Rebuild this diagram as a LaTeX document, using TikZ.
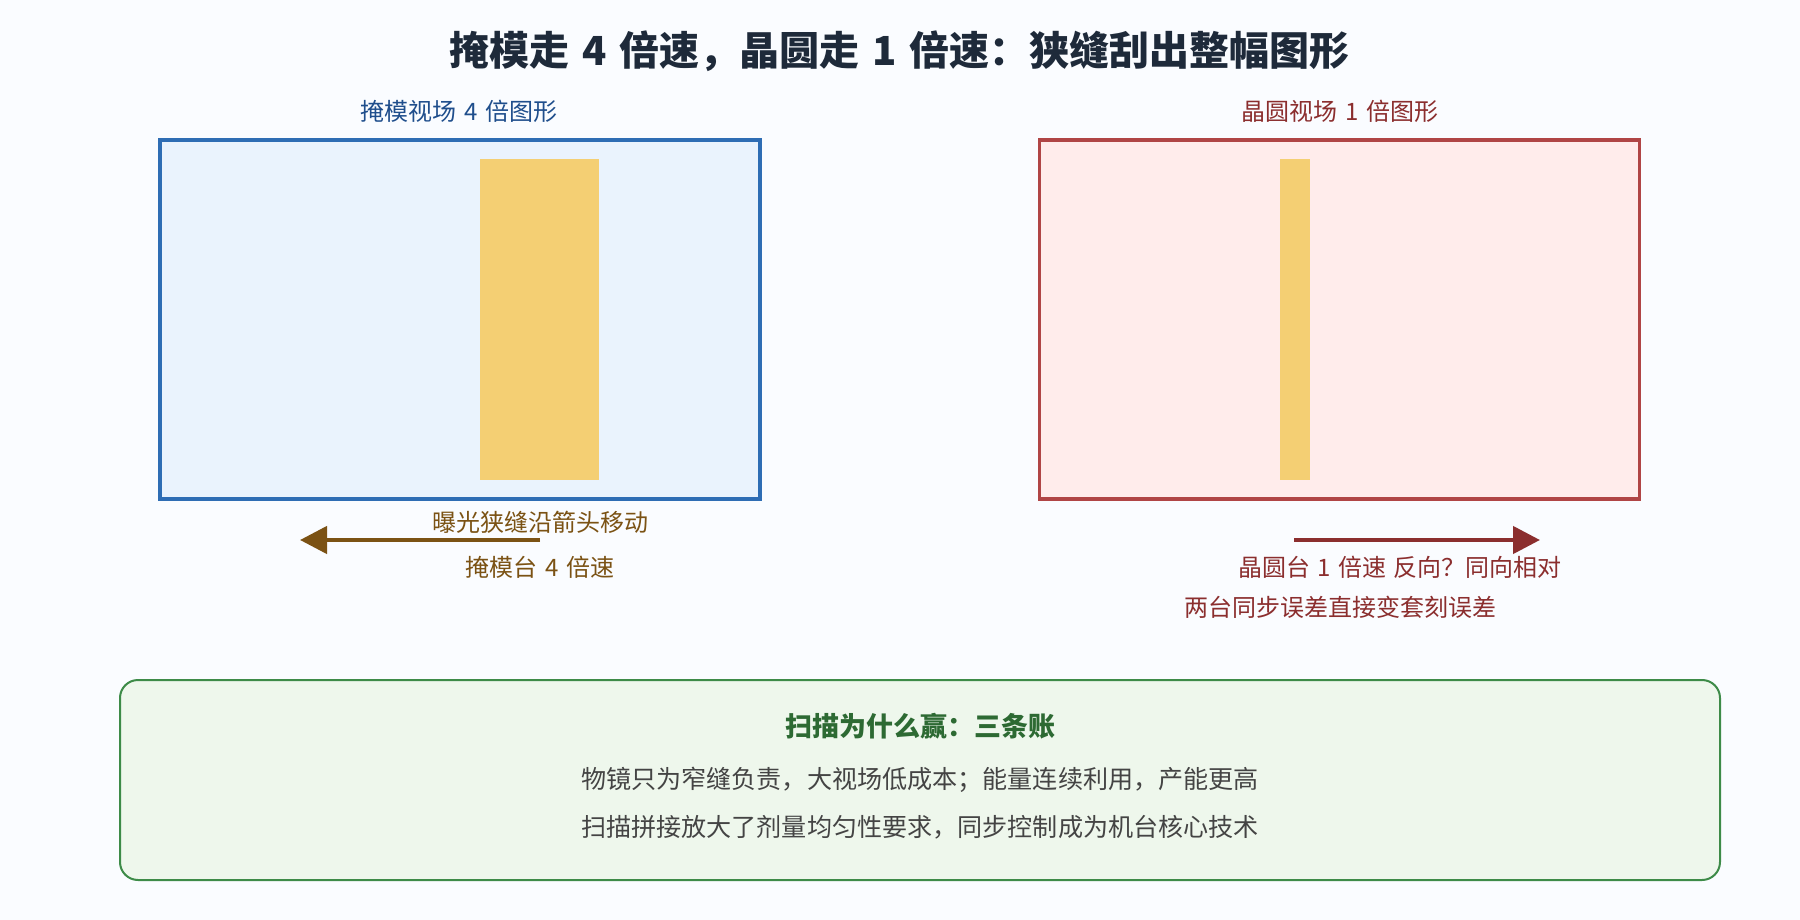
\documentclass[tikz,border=0pt]{standalone}
\usepackage{fontspec}
\setmainfont{Noto Sans CJK SC}[WordSpace=1.4]
\usetikzlibrary{arrows.meta}

\definecolor{pagebg}{HTML}{FAFCFF}
\definecolor{titleink}{HTML}{1E2A3A}
\definecolor{maskink}{HTML}{1F4E8C}
\definecolor{maskline}{HTML}{2E6DB4}
\definecolor{maskfill}{HTML}{EAF3FD}
\definecolor{waferink}{HTML}{8B2E2E}
\definecolor{waferline}{HTML}{B04545}
\definecolor{waferfill}{HTML}{FFECEB}
\definecolor{slitfill}{HTML}{F4CF73}
\definecolor{stageink}{HTML}{7B5214}
\definecolor{sumline}{HTML}{3D8B48}
\definecolor{sumfill}{HTML}{EEF7EC}
\definecolor{sumink}{HTML}{2D6A33}
\definecolor{bodyink}{HTML}{444444}

\begin{document}
\begin{tikzpicture}[x=1pt,y=-1pt,
  fieldbox/.style={draw, line width=3.5pt, minimum width=600pt, minimum height=359pt, inner sep=0pt},
  slitbar/.style={fill=slitfill, inner sep=0pt, minimum height=320pt},
  smalltext/.style={font=\fontsize{24}{28}\selectfont, inner sep=0pt},
  bodytext/.style={font=\fontsize{25.1}{30}\selectfont, text=bodyink, inner sep=0pt},
  stagearrow/.style={line width=4.5pt, -{Triangle[length=27pt,width=27pt]}}]

  \useasboundingbox[fill=pagebg] (0,0) rectangle (1800,920);

  \node (title) at (900,51) [font=\fontsize{40}{44}\selectfont\bfseries, text=titleink, inner sep=0pt] {掩模走 4 倍速，晶圆走 1 倍速：狭缝刮出整幅图形};

  \node (masklabel) at (459,111) [smalltext, text=maskink] {掩模视场 4 倍图形};
  \node (waferlabel) at (1340,111) [smalltext, text=waferink] {晶圆视场 1 倍图形};

  \node (maskfield) at (460,319.5) [fieldbox, draw=maskline, fill=maskfill] {};
  \node (waferfield) at (1339.5,319.5) [fieldbox, draw=waferline, fill=waferfill] {};

  \node (maskslit) at (539.5,319.5) [slitbar, minimum width=119pt] {};
  \node (waferslit) at (1295,319.5) [slitbar, minimum width=30pt] {};

  \coordinate (maskfrom) at (540,540);
  \coordinate (maskto) at (300,540);
  \coordinate (waferfrom) at (1294,540);
  \coordinate (waferto) at (1540,540);

  \draw [stagearrow, draw=stageink, fill=stageink] (maskfrom) -- (maskto);
  \draw [stagearrow, draw=waferink, fill=waferink] (waferfrom) -- (waferto);

  \node (slitnote) at (540,522) [smalltext, text=stageink] {曝光狭缝沿箭头移动};
  \node (maskstage) at (540,567) [smalltext, text=stageink] {掩模台 4 倍速};
  \node (waferstage) at (1400,567) [smalltext, text=waferink] {晶圆台 1 倍速 反向？同向相对};
  \node (syncnote) at (1340,607) [smalltext, text=waferink] {两台同步误差直接变套刻误差};

  \node (summary) at (920,780) [draw=sumline, fill=sumfill, line width=2pt, rounded corners=18pt, minimum width=1600pt, minimum height=200pt] {};
  \node (sumhead) at (920,726) [font=\fontsize{27}{30}\selectfont\bfseries, text=sumink, inner sep=0pt] {扫描为什么赢：三条账};
  \node (sumone) at (920,780) [bodytext] {物镜只为窄缝负责，大视场低成本；能量连续利用，产能更高};
  \node (sumtwo) at (920,827) [bodytext] {扫描拼接放大了剂量均匀性要求，同步控制成为机台核心技术};

\end{tikzpicture}
\end{document}
